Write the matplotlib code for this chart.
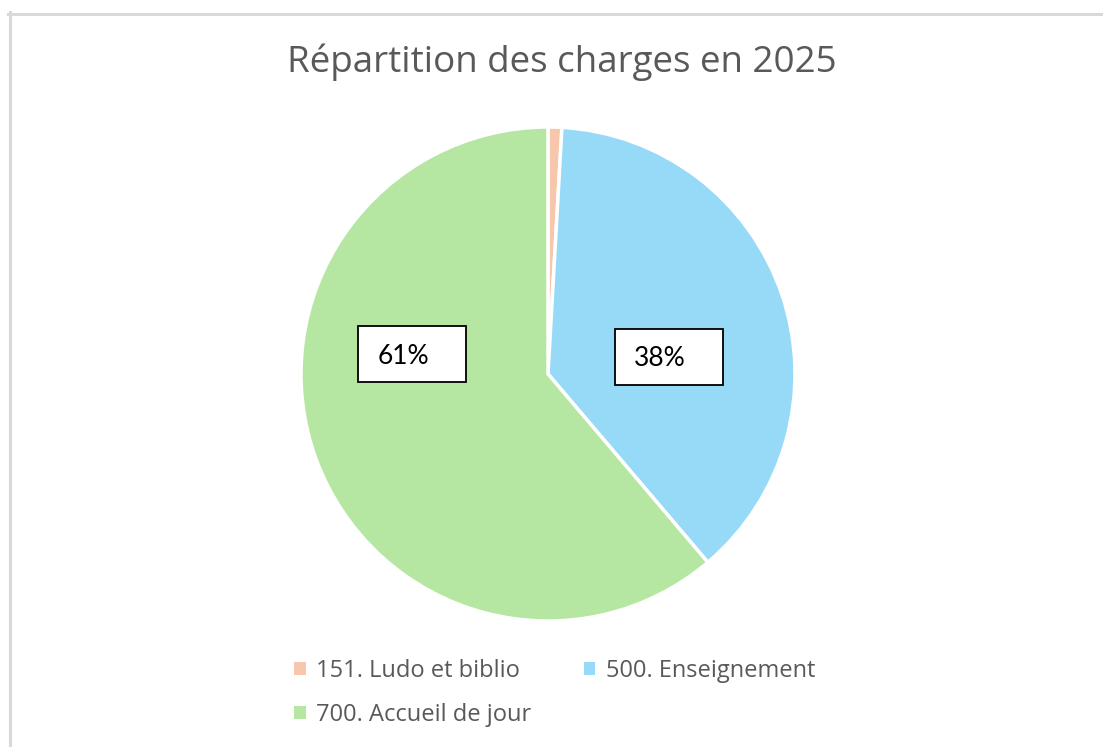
import matplotlib.pyplot as plt
from matplotlib.patches import Rectangle, Patch
from matplotlib.lines import Line2D
import numpy as np

title = "Répartition des charges en 2025"
categories = ["151. Ludo et biblio", "500. Enseignement", "700. Accueil de jour"]
values = [0.9, 37.9, 61.2]
colors = ["#F6C6AD", "#97DAF7", "#B5E6A2"]
# label box centres, as fractions of the radius (manual placement, like in the original)
label_pos = {1: (0.49, 0.07), 2: (-0.55, 0.08)}

W, H = 1103, 747
fig = plt.figure(figsize=(W / 100, H / 100), dpi=100)
fig.patch.set_facecolor("white")

# pie centre and radius in pixels
cx, cy, r = 548, 374, 247
lim = 1.0
ax = fig.add_axes([(cx - r) / W, (H - cy - r) / H, 2 * r / W, 2 * r / H])
wedges, _ = ax.pie(values, colors=colors, startangle=90, counterclock=False,
                   wedgeprops=dict(edgecolor="white", linewidth=2.5))
ax.set_xlim(-lim, lim)
ax.set_ylim(-lim, lim)
ax.set_aspect("equal")
ax.axis("off")
for w in wedges:
    w.set_clip_on(False)

total = sum(values)
bw, bh = 108 / r, 56 / r
for i, (x, y) in label_pos.items():
    pct = "%d%%" % round(values[i] / total * 100)
    ax.add_patch(Rectangle((x - bw / 2, y - bh / 2), bw, bh, facecolor="white",
                           edgecolor="black", linewidth=1.3, zorder=5))
    ax.text(x - bw / 2 + 19 / r, y - 2 / r, pct, ha="left", va="center",
            fontsize=19, family="Lato", color="black", zorder=6)

fig.text(562 / W, 1 - 62 / H, title, ha="center", va="center",
         fontsize=26.5, family="Open Sans", color="#595959")

# legend, filled row by row
handles = [Patch(facecolor=c, edgecolor="none") for c in colors]
order = [0, 2, 1]
leg = fig.legend([handles[i] for i in order], [categories[i] for i in order],
                 ncol=2, loc="upper left", bbox_to_anchor=(294 / W, 1 - 659 / H),
                 frameon=False, handlelength=0.5, handleheight=0.5,
                 handletextpad=0.45, columnspacing=2.2, labelspacing=0.85,
                 borderpad=0, borderaxespad=0,
                 prop=dict(family="Open Sans", size=17))
for t in leg.get_texts():
    t.set_color("#595959")

# chart-area border (only top and left visible in the crop)
fig.add_artist(Line2D([9.5 / W, 9.5 / W], [0, 1 - 12 / H], transform=fig.transFigure,
                      color="#D9D9D9", linewidth=2.2))
fig.add_artist(Line2D([8 / W, 1], [1 - 13.5 / H, 1 - 13.5 / H], transform=fig.transFigure,
                      color="#D9D9D9", linewidth=2.2))

fig.savefig("out.png", dpi=100, facecolor="white")
